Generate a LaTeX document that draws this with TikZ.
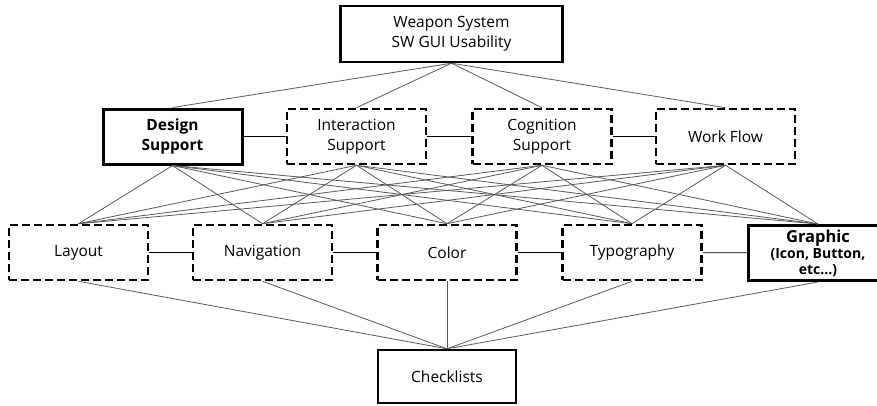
\documentclass[tikz,border=0pt]{standalone}
\usepackage{fontspec}
\setmainfont{Open Sans}
\begin{document}
\begin{tikzpicture}[x=1pt, y=-1pt,
        solidbox/.style={draw, line width=2.4pt, minimum width=139pt, minimum height=55pt,
          align=center, font=\fontsize{15.5}{20}\selectfont, inner sep=1pt},
        dashbox/.style={solidbox, line width=2.6pt, dash pattern=on 8pt off 4pt},
        boldbox/.style={solidbox, line width=3pt, font=\fontsize{15.5}{20}\selectfont\bfseries},
        fanline/.style={draw=black!65, line width=0.8pt},
        linkline/.style={draw=black, line width=0.8pt}
      ]
      \useasboundingbox (0,0) rectangle (877,405);
      \node[solidbox, minimum width=222pt, minimum height=56pt] (top) at (451.5,34) {Weapon System\\SW GUI Usability};
      \node[boldbox] (ds) at (172.5,136.5) {Design\\Support};
      \node[dashbox] (is) at (356.5,136.5) {Interaction\\Support};
      \node[dashbox] (cs) at (542,136.5) {Cognition\\Support};
      \node[dashbox] (wf) at (725.5,136.5) {Work Flow};
      \node[dashbox] (lay) at (78.5,252.5) {Layout};
      \node[dashbox] (nav) at (262.5,252.5) {Navigation};
      \node[dashbox] (col) at (447,252.5) {Color};
      \node[dashbox] (typ) at (632,252.5) {Typography};
      \node[boldbox, font=\fontsize{14}{16}\selectfont\bfseries] (gra) at (818,253)
        {{\fontsize{16.5}{17}\selectfont Graphic}\\(Icon,~Button,\\etc...)};
      \node[solidbox, minimum width=138pt, minimum height=53pt] (chk) at (447,376.5) {Checklists};
      \foreach \a in {ds,is,cs,wf}{
        \draw[fanline] (top.south) -- (\a.north);
        \foreach \b in {lay,nav,col,typ,gra}
          \draw[fanline] (\a.south) -- (\b.north);
      }
      \foreach \b in {lay,nav,col,typ,gra}
        \draw[fanline] (\b.south) -- (chk.north);
      \foreach \a/\b in {ds/is, is/cs, cs/wf, lay/nav, nav/col, col/typ, typ/gra}
        \draw[linkline] (\a) -- (\b);
    \end{tikzpicture}
\end{document}
